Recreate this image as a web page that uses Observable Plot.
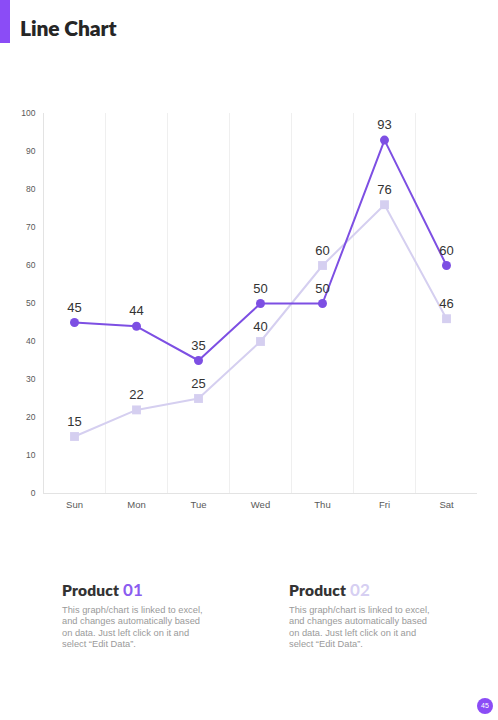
<!DOCTYPE html>
<html>
<head>
<meta charset="utf-8">
<script src="https://cdn.jsdelivr.net/npm/d3@7"></script>
<script src="https://cdn.jsdelivr.net/npm/@observablehq/plot@0.6"></script>
<style>
  html, body { margin: 0; padding: 0; background: #fff; }
  body { width: 498px; height: 720px; position: relative; overflow: hidden; font-family: "Liberation Sans", Arial, sans-serif; }
  .bar { position: absolute; left: 0; top: 0; width: 10px; height: 43px; background: #8b4cf6; }
  .title { position: absolute; left: 20px; top: 15px; font-family: Lato, sans-serif; font-weight: 800; font-size: 21px; color: #262626; letter-spacing: -0.1px; }
  #chart { position: absolute; left: 0; top: 100px; }
  .block { position: absolute; top: 579px; width: 144px; }
  .block h3 { margin: 0; font-family: Lato, sans-serif; font-weight: 800; font-size: 15.5px; color: #333; letter-spacing: 0.2px; white-space: nowrap; }
  .block h3 span { font-weight: 700; font-size: 17px; }
  .block p { margin: 5px 0 0; font-size: 9.3px; line-height: 11.3px; color: #9a9a9a; }
  .page { position: absolute; left: 477px; top: 698px; width: 16px; height: 16px; border-radius: 50%; background: #8b4cf6; color: #fff; font-size: 7px; line-height: 16px; text-align: center; }
</style>
</head>
<body>
<div class="bar"></div>
<div class="title">Line Chart</div>
<div id="chart"></div>
<div class="block" style="left:62px"><h3>Product <span style="color:#8b5cf0">01</span></h3>
<p>This graph/chart is linked to excel, and changes automatically based on data. Just left click on it and select “Edit Data”.</p></div>
<div class="block" style="left:289px"><h3>Product <span style="color:#d6cff2">02</span></h3>
<p>This graph/chart is linked to excel, and changes automatically based on data. Just left click on it and select “Edit Data”.</p></div>
<div class="page">45</div>
<script>
const days = ["Sun", "Mon", "Tue", "Wed", "Thu", "Fri", "Sat"];
const product1 = [45, 44, 35, 50, 50, 93, 60];
const product2 = [15, 22, 25, 40, 60, 76, 46];
const yTicks = [0, 10, 20, 30, 40, 50, 60, 70, 80, 90, 100];

const purple = "#7d4fe3";
const lavender = "#d5cff0";

const rows1 = days.map((d, i) => ({i, day: d, value: product1[i]}));
const rows2 = days.map((d, i) => ({i, day: d, value: product2[i]}));
// boundaries between day columns
const bounds = days.slice(1).map((d, i) => i + 0.5);

const chart = Plot.plot({
  width: 498,
  height: 420,
  marginLeft: 43,
  marginRight: 21,
  marginTop: 13,
  marginBottom: 27,
  style: {fontFamily: "'Liberation Sans', Arial, sans-serif", fontSize: "9px", background: "transparent"},
  x: {type: "linear", domain: [-0.5, days.length - 0.5], label: null},
  y: {domain: [0, 100], label: null},
  marks: [
    Plot.ruleX(bounds, {stroke: "#efefef", strokeWidth: 1}),
    Plot.ruleX([-0.5], {stroke: "#e3e3e3", strokeWidth: 1}),
    Plot.ruleY([0], {stroke: "#e3e3e3", strokeWidth: 1}),
    Plot.axisY({ticks: yTicks, tickSize: 0, tickPadding: 8, fontSize: 8.5, fill: "#595959", tickFormat: d => d, label: null}),
    Plot.axisX({ticks: days.map((d, i) => i), tickFormat: i => days[i], tickSize: 0, tickPadding: 8, fontSize: 9.5, fill: "#595959", label: null}),
    Plot.line(rows2, {x: "i", y: "value", stroke: lavender, strokeWidth: 2}),
    Plot.dot(rows2, {x: "i", y: "value", symbol: "square", r: 5, fill: lavender, stroke: "none"}),
    Plot.line(rows1, {x: "i", y: "value", stroke: purple, strokeWidth: 2}),
    Plot.dot(rows1, {x: "i", y: "value", r: 4.5, fill: purple, stroke: "none"}),
    Plot.text(rows2, {x: "i", y: "value", text: "value", dy: -15, fontSize: 13, fill: "#333"}),
    Plot.text(rows1, {x: "i", y: "value", text: "value", dy: -15, fontSize: 13, fill: "#333"})
  ]
});
document.getElementById("chart").appendChild(chart);
</script>
</body>
</html>
